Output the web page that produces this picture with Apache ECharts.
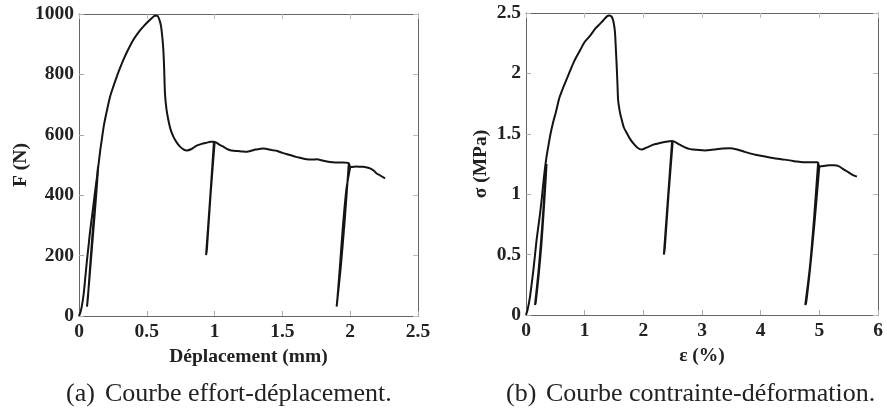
<!DOCTYPE html>
<html>
<head>
<meta charset="utf-8">
<script src="https://cdn.jsdelivr.net/npm/echarts@6/dist/echarts.min.js"></script>
<style>
html,body{margin:0;padding:0;background:#fff;}
#c{width:887px;height:409px;}
</style>
</head>
<body>
<div id="c"></div>
<script>
// ---- (a) effort-déplacement : [déplacement mm, F N]
const envelopeA = [[0,0],[0.01,12],[0.02,30],[0.035,75],[0.047,130],[0.059,185],[0.071,235],[0.083,285],[0.096,330],[0.108,373],[0.12,417],[0.133,461],[0.145,505],[0.157,550],[0.17,590],[0.182,627],[0.2,668],[0.229,726],[0.255,762],[0.278,792],[0.3,818],[0.327,848],[0.36,880],[0.4,914],[0.44,940],[0.474,958],[0.51,975],[0.536,986],[0.56,994],[0.575,994],[0.59,985],[0.605,960],[0.615,920],[0.622,881],[0.628,820],[0.634,737],[0.645,685],[0.659,649],[0.675,618],[0.696,594],[0.72,575],[0.745,561],[0.77,552],[0.794,548],[0.83,553],[0.868,564],[0.905,570],[0.942,574],[0.97,577],[0.99,577],[1.01,575],[1.04,566],[1.065,561],[1.09,553],[1.114,549],[1.138,547],[1.17,546],[1.2,545],[1.237,544],[1.27,547],[1.3,551],[1.33,553],[1.359,555],[1.384,553],[1.42,550],[1.458,547],[1.5,540],[1.556,533],[1.6,527],[1.63,524],[1.679,519],[1.72,518],[1.753,519],[1.802,514],[1.85,510],[1.876,509],[1.9,508],[1.95,508],[1.986,507],[1.995,500],[2.0,493],[2.023,494],[2.05,495],[2.07,494],[2.097,494],[2.12,492],[2.146,489],[2.175,481],[2.195,472],[2.22,466],[2.257,456]];
const cycleA1 = [[0.14,495],[0.133,439],[0.116,340],[0.096,229],[0.076,119],[0.059,31],[0.066,62],[0.082,165],[0.101,280],[0.12,385],[0.138,470]];
const cycleA2 = [[0.995,577],[0.967,390],[0.937,202],[0.943,220],[0.97,400],[1.0,573]];
const cycleA3 = [[1.99,507],[1.96,320],[1.93,160],[1.9,31],[1.906,60],[1.922,150],[1.945,290],[1.972,420],[2.0,493]];

// ---- (b) contrainte-déformation : [ε %, σ MPa]
const envelopeB = [[0,0],[0.03,0.05],[0.068,0.15],[0.1,0.27],[0.125,0.37],[0.15,0.48],[0.18,0.62],[0.21,0.73],[0.24,0.84],[0.27,0.97],[0.295,1.09],[0.32,1.2],[0.35,1.31],[0.385,1.41],[0.42,1.505],[0.465,1.6],[0.51,1.68],[0.57,1.8],[0.64,1.89],[0.7,1.96],[0.75,2.02],[0.82,2.1],[0.92,2.19],[1.0,2.26],[1.09,2.31],[1.18,2.37],[1.26,2.41],[1.32,2.44],[1.375,2.47],[1.42,2.48],[1.46,2.47],[1.49,2.43],[1.515,2.35],[1.53,2.22],[1.546,2.06],[1.56,1.9],[1.57,1.78],[1.6,1.68],[1.63,1.62],[1.67,1.55],[1.72,1.505],[1.77,1.46],[1.83,1.42],[1.9,1.385],[1.97,1.37],[2.05,1.385],[2.17,1.41],[2.25,1.42],[2.34,1.43],[2.42,1.437],[2.48,1.44],[2.53,1.435],[2.62,1.41],[2.7,1.39],[2.78,1.375],[2.85,1.37],[2.95,1.365],[3.05,1.362],[3.14,1.365],[3.25,1.372],[3.35,1.378],[3.48,1.38],[3.6,1.37],[3.7,1.355],[3.8,1.34],[3.93,1.325],[4.05,1.315],[4.21,1.3],[4.35,1.29],[4.5,1.28],[4.62,1.27],[4.73,1.265],[4.85,1.265],[4.97,1.265],[4.99,1.24],[5.01,1.23],[5.1,1.235],[5.18,1.24],[5.25,1.24],[5.32,1.235],[5.4,1.21],[5.47,1.19],[5.55,1.165],[5.64,1.145]];
const cycleB1 = [[0.33,1.22],[0.32,1.09],[0.295,0.87],[0.25,0.57],[0.21,0.345],[0.153,0.083],[0.165,0.1],[0.222,0.36],[0.262,0.58],[0.303,0.87],[0.333,1.1],[0.35,1.25]];
const cycleB2 = [[2.49,1.44],[2.42,0.97],[2.35,0.5],[2.365,0.55],[2.43,1.0],[2.5,1.43]];
const cycleB3 = [[4.98,1.265],[4.91,0.8],[4.84,0.4],[4.76,0.083],[4.775,0.1],[4.835,0.35],[4.915,0.75],[5.0,1.23]];

// ---- axes / texts
const xTicksA = {min:0, max:2.5, interval:0.5};
const yTicksA = {min:0, max:1000, interval:200};
const xTicksB = {min:0, max:6, interval:1};
const yTicksB = {min:0, max:2.5, interval:0.5};
const xNameA = 'Déplacement (mm)';
const yNameA = 'F (N)';
const xNameB = 'ε (%)';
const yNameB = 'σ (MPa)';
const captionTagA = '(a)';
const captionA = 'Courbe effort-déplacement.';
const captionTagB = '(b)';
const captionB = 'Courbe contrainte-déformation.';

const SERIF = '"Liberation Serif", "DejaVu Serif", serif';
const AX = '#666';
const INK = '#141414';
const fmt = v => String(v);

function mainX(gi, t, name) {
  return {
    type:'value', gridIndex:gi, min:t.min, max:t.max, interval:t.interval,
    name:name, nameLocation:'middle', nameGap:26,
    nameTextStyle:{fontFamily:SERIF, fontWeight:'bold', fontSize:19.5, color:'#222'},
    axisLine:{show:true, onZero:false, lineStyle:{color:AX, width:1}},
    axisTick:{show:true, inside:true, length:5, lineStyle:{color:'#aaa'}},
    axisLabel:{show:true, margin:6, fontFamily:SERIF, fontWeight:'bold', fontSize:19.5, color:'#222', formatter:fmt},
    splitLine:{show:false}
  };
}
function mirrorX(gi, t) {
  return {
    type:'value', gridIndex:gi, position:'top', min:t.min, max:t.max, interval:t.interval,
    axisLine:{show:true, onZero:false, lineStyle:{color:AX, width:1}},
    axisTick:{show:true, inside:true, length:5, lineStyle:{color:'#bbb'}},
    axisLabel:{show:false}, splitLine:{show:false}
  };
}
function mainY(gi, t, name, gap) {
  return {
    type:'value', gridIndex:gi, min:t.min, max:t.max, interval:t.interval,
    name:name, nameLocation:'middle', nameGap:gap, nameRotate:90,
    nameTextStyle:{fontFamily:SERIF, fontWeight:'bold', fontSize:19.5, color:'#222'},
    axisLine:{show:true, onZero:false, lineStyle:{color:AX, width:1}},
    axisTick:{show:true, inside:true, length:5, lineStyle:{color:'#aaa'}},
    axisLabel:{show:true, margin:5, fontFamily:SERIF, fontWeight:'bold', fontSize:19.5, color:'#222', formatter:fmt},
    splitLine:{show:false}
  };
}
function mirrorY(gi, t) {
  return {
    type:'value', gridIndex:gi, position:'right', min:t.min, max:t.max, interval:t.interval,
    axisLine:{show:true, onZero:false, lineStyle:{color:AX, width:1}},
    axisTick:{show:true, inside:true, length:5, lineStyle:{color:'#bbb'}},
    axisLabel:{show:false}, splitLine:{show:false}
  };
}
function line(xi, yi, data, w) {
  return {
    type:'line', xAxisIndex:xi, yAxisIndex:yi, data:data, symbol:'none',
    smooth:0.25, lineStyle:{color:INK, width:w}, silent:true
  };
}

const chart = echarts.init(document.getElementById('c'), null, {renderer:'canvas'});
chart.setOption({
  animation:false,
  backgroundColor:'#fff',
  grid:[
    {left:79, top:14, width:339, height:302, containLabel:false},
    {left:526, top:13, width:352, height:302, containLabel:false}
  ],
  xAxis:[mainX(0, xTicksA, xNameA), mirrorX(0, xTicksA), mainX(1, xTicksB, xNameB), mirrorX(1, xTicksB)],
  yAxis:[mainY(0, yTicksA, yNameA, 46), mirrorY(0, yTicksA), mainY(1, yTicksB, yNameB, 35), mirrorY(1, yTicksB)],
  series:[
    line(0,0,envelopeA,2),
    line(0,0,cycleA1,2),
    line(0,0,cycleA2,2),
    line(0,0,cycleA3,2),
    line(2,2,envelopeB,2),
    line(2,2,cycleB1,2),
    line(2,2,cycleB2,2),
    line(2,2,cycleB3,2)
  ],
  graphic:[
    {type:'text', left:66, top:381, style:{text:captionTagA, font:'26px '+SERIF, fill:'#222'}},
    {type:'text', left:105, top:381, style:{text:captionA, font:'26px '+SERIF, fill:'#222'}},
    {type:'text', left:506, top:381, style:{text:captionTagB, font:'26px '+SERIF, fill:'#222'}},
    {type:'text', left:546, top:381, style:{text:captionB, font:'26px '+SERIF, fill:'#222'}}
  ]
});
</script>
</body>
</html>
